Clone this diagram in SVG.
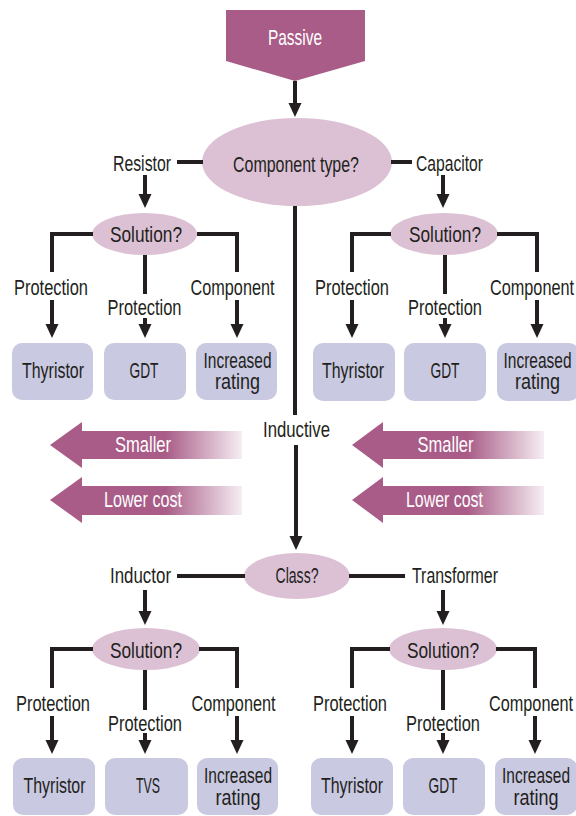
<svg xmlns="http://www.w3.org/2000/svg" width="576" height="816" viewBox="0 0 576 816">
<defs>
<marker id="ah" viewBox="0 0 14 14" markerWidth="14" markerHeight="14" markerUnits="userSpaceOnUse" refX="1" refY="7" orient="auto"><path d="M0,0.5 L14,7 L0,13.5 Z" fill="#231f20"/></marker>
<linearGradient id="fadeL" x1="0" y1="0" x2="1" y2="0"><stop offset="0" stop-color="#a85c87"/><stop offset="0.6" stop-color="#a85c87"/><stop offset="1" stop-color="#f6eef3"/></linearGradient>
<style>
text{font-family:"Liberation Sans",Arial,sans-serif;font-size:21.5px;fill:#231f20;text-anchor:middle}
.w{fill:#ffffff}
.q{fill:#dcc1d5}
.b{fill:#c9c9e1}
.ln{stroke:#231f20;stroke-width:4;fill:none}
.ar{stroke:#231f20;stroke-width:4;fill:none;marker-end:url(#ah)}
</style>
</defs>
<g id="passive"><path d="M226,10 H365 V61 L295,81 L226,61 Z" fill="#a85c87"/><text class="w" x="295" y="45" textLength="54" lengthAdjust="spacingAndGlyphs">Passive</text></g>
<g id="component-type"><ellipse cx="297" cy="162" rx="95" ry="44" class="q"/><text x="296" y="172" textLength="126" lengthAdjust="spacingAndGlyphs">Component type?</text></g>
<g id="sol1"><ellipse cx="144.5" cy="234" rx="52.5" ry="21" class="q"/><text x="146" y="242" textLength="72" lengthAdjust="spacingAndGlyphs">Solution?</text></g>
<g id="sol2"><ellipse cx="444" cy="234" rx="54" ry="21" class="q"/><text x="445" y="242" textLength="72" lengthAdjust="spacingAndGlyphs">Solution?</text></g>
<g id="class"><ellipse cx="297" cy="576" rx="53" ry="23" class="q"/><text x="297" y="583" textLength="43" lengthAdjust="spacingAndGlyphs">Class?</text></g>
<g id="sol3"><ellipse cx="146" cy="649" rx="54" ry="21" class="q"/><text x="146" y="658" textLength="72" lengthAdjust="spacingAndGlyphs">Solution?</text></g>
<g id="sol4"><ellipse cx="443" cy="649" rx="54" ry="21" class="q"/><text x="443" y="658" textLength="72" lengthAdjust="spacingAndGlyphs">Solution?</text></g>
<g id="b1"><rect x="12" y="343" width="81" height="57" rx="10" class="b"/><text x="53" y="378" textLength="62" lengthAdjust="spacingAndGlyphs">Thyristor</text></g>
<g id="b2"><rect x="104" y="343" width="82" height="57" rx="10" class="b"/><text x="144" y="378" textLength="29" lengthAdjust="spacingAndGlyphs">GDT</text></g>
<g id="b3"><rect x="196" y="343" width="81" height="57" rx="10" class="b"/><text x="237.5" y="368" textLength="68" lengthAdjust="spacingAndGlyphs">Increased</text><text x="237.5" y="389" textLength="45" lengthAdjust="spacingAndGlyphs">rating</text></g>
<g id="b4"><rect x="313" y="343" width="82" height="58" rx="10" class="b"/><text x="353" y="378" textLength="62" lengthAdjust="spacingAndGlyphs">Thyristor</text></g>
<g id="b5"><rect x="404" y="343" width="82" height="58" rx="10" class="b"/><text x="445" y="378" textLength="29" lengthAdjust="spacingAndGlyphs">GDT</text></g>
<g id="b6"><rect x="497" y="343" width="82" height="58" rx="10" class="b"/><text x="537.5" y="368" textLength="68" lengthAdjust="spacingAndGlyphs">Increased</text><text x="537.5" y="389" textLength="45" lengthAdjust="spacingAndGlyphs">rating</text></g>
<g id="b7"><rect x="13" y="758" width="82" height="57" rx="10" class="b"/><text x="54.5" y="793" textLength="62" lengthAdjust="spacingAndGlyphs">Thyristor</text></g>
<g id="b8"><rect x="105" y="758" width="83" height="57" rx="10" class="b"/><text x="148" y="793" textLength="24" lengthAdjust="spacingAndGlyphs">TVS</text></g>
<g id="b9"><rect x="197" y="758" width="81" height="57" rx="10" class="b"/><text x="238" y="783" textLength="68" lengthAdjust="spacingAndGlyphs">Increased</text><text x="238" y="805" textLength="45" lengthAdjust="spacingAndGlyphs">rating</text></g>
<g id="b10"><rect x="311" y="758" width="82" height="57" rx="10" class="b"/><text x="352" y="793" textLength="62" lengthAdjust="spacingAndGlyphs">Thyristor</text></g>
<g id="b11"><rect x="403" y="758" width="82" height="57" rx="10" class="b"/><text x="443" y="793" textLength="29" lengthAdjust="spacingAndGlyphs">GDT</text></g>
<g id="b12"><rect x="495" y="758" width="82" height="57" rx="10" class="b"/><text x="536" y="783" textLength="68" lengthAdjust="spacingAndGlyphs">Increased</text><text x="536" y="805" textLength="45" lengthAdjust="spacingAndGlyphs">rating</text></g>
<g id="trend-arrows">
<path d="M50,445 L82,422 V431 H242 V459 H82 V468 Z" fill="url(#fadeL)"/><text class="w" x="143" y="452" textLength="56" lengthAdjust="spacingAndGlyphs">Smaller</text>
<path d="M50,500 L82,477 V486 H242 V515 H82 V523 Z" fill="url(#fadeL)"/><text class="w" x="143" y="507" textLength="78" lengthAdjust="spacingAndGlyphs">Lower cost</text>
<path d="M352,445 L383,422 V431 H544 V459 H383 V468 Z" fill="url(#fadeL)"/><text class="w" x="445.5" y="452" textLength="56" lengthAdjust="spacingAndGlyphs">Smaller</text>
<path d="M352,500 L383,477 V486 H544 V515 H383 V523 Z" fill="url(#fadeL)"/><text class="w" x="444.5" y="507" textLength="77" lengthAdjust="spacingAndGlyphs">Lower cost</text>
</g>
<g id="connectors">
<line class="ar" x1="295" y1="81" x2="295" y2="104"/>
<line class="ln" x1="177" y1="162" x2="203" y2="162"/>
<line class="ln" x1="391" y1="162" x2="412" y2="162"/>
<line class="ar" x1="145" y1="175" x2="145" y2="195"/>
<line class="ar" x1="443" y1="175" x2="443" y2="195"/>
<path class="ln" d="M93,234 H52 V272"/>
<line class="ar" x1="52" y1="300" x2="52" y2="325"/>
<line class="ln" x1="145" y1="255" x2="145" y2="294"/>
<line class="ar" x1="145" y1="318" x2="145" y2="325"/>
<path class="ln" d="M197,234 H237 V272"/>
<line class="ar" x1="237" y1="300" x2="237" y2="325"/>
<path class="ln" d="M391,234 H352 V272"/>
<line class="ar" x1="352" y1="300" x2="352" y2="325"/>
<line class="ln" x1="445" y1="255" x2="445" y2="294"/>
<line class="ar" x1="445" y1="318" x2="445" y2="325"/>
<path class="ln" d="M497,234 H537 V272"/>
<line class="ar" x1="537" y1="300" x2="537" y2="325"/>
<line class="ln" x1="295" y1="206" x2="295" y2="415"/>
<line class="ar" x1="296" y1="445" x2="296" y2="537"/>
<line class="ln" x1="177" y1="576" x2="245" y2="576"/>
<line class="ln" x1="349" y1="576" x2="405" y2="576"/>
<line class="ar" x1="145" y1="590" x2="145" y2="612"/>
<line class="ar" x1="443" y1="590" x2="443" y2="612"/>
<path class="ln" d="M93,649 H52 V688"/>
<line class="ar" x1="52" y1="716" x2="52" y2="741"/>
<line class="ln" x1="145" y1="670" x2="145" y2="710"/>
<line class="ar" x1="145" y1="733" x2="145" y2="741"/>
<path class="ln" d="M199,649 H237 V688"/>
<line class="ar" x1="237" y1="716" x2="237" y2="741"/>
<path class="ln" d="M390,649 H352 V688"/>
<line class="ar" x1="352" y1="716" x2="352" y2="741"/>
<line class="ln" x1="443" y1="670" x2="443" y2="710"/>
<line class="ar" x1="443" y1="733" x2="443" y2="741"/>
<path class="ln" d="M496,649 H535 V688"/>
<line class="ar" x1="535" y1="716" x2="535" y2="741"/>
</g>
<g id="labels">
<text x="142" y="171" textLength="58" lengthAdjust="spacingAndGlyphs">Resistor</text>
<text x="449.5" y="171" textLength="67" lengthAdjust="spacingAndGlyphs">Capacitor</text>
<text x="296.5" y="437" textLength="67" lengthAdjust="spacingAndGlyphs">Inductive</text>
<text x="140.5" y="583" textLength="61" lengthAdjust="spacingAndGlyphs">Inductor</text>
<text x="455" y="583" textLength="86" lengthAdjust="spacingAndGlyphs">Transformer</text>
<text x="51" y="295" textLength="74" lengthAdjust="spacingAndGlyphs">Protection</text>
<text x="144.5" y="315" textLength="74" lengthAdjust="spacingAndGlyphs">Protection</text>
<text x="232.5" y="295" textLength="84" lengthAdjust="spacingAndGlyphs">Component</text>
<text x="352" y="295" textLength="74" lengthAdjust="spacingAndGlyphs">Protection</text>
<text x="445" y="315" textLength="74" lengthAdjust="spacingAndGlyphs">Protection</text>
<text x="532" y="295" textLength="84" lengthAdjust="spacingAndGlyphs">Component</text>
<text x="53" y="711" textLength="74" lengthAdjust="spacingAndGlyphs">Protection</text>
<text x="145" y="731" textLength="74" lengthAdjust="spacingAndGlyphs">Protection</text>
<text x="233.5" y="711" textLength="84" lengthAdjust="spacingAndGlyphs">Component</text>
<text x="350" y="711" textLength="74" lengthAdjust="spacingAndGlyphs">Protection</text>
<text x="443" y="731" textLength="74" lengthAdjust="spacingAndGlyphs">Protection</text>
<text x="531" y="711" textLength="84" lengthAdjust="spacingAndGlyphs">Component</text>
</g>
</svg>
